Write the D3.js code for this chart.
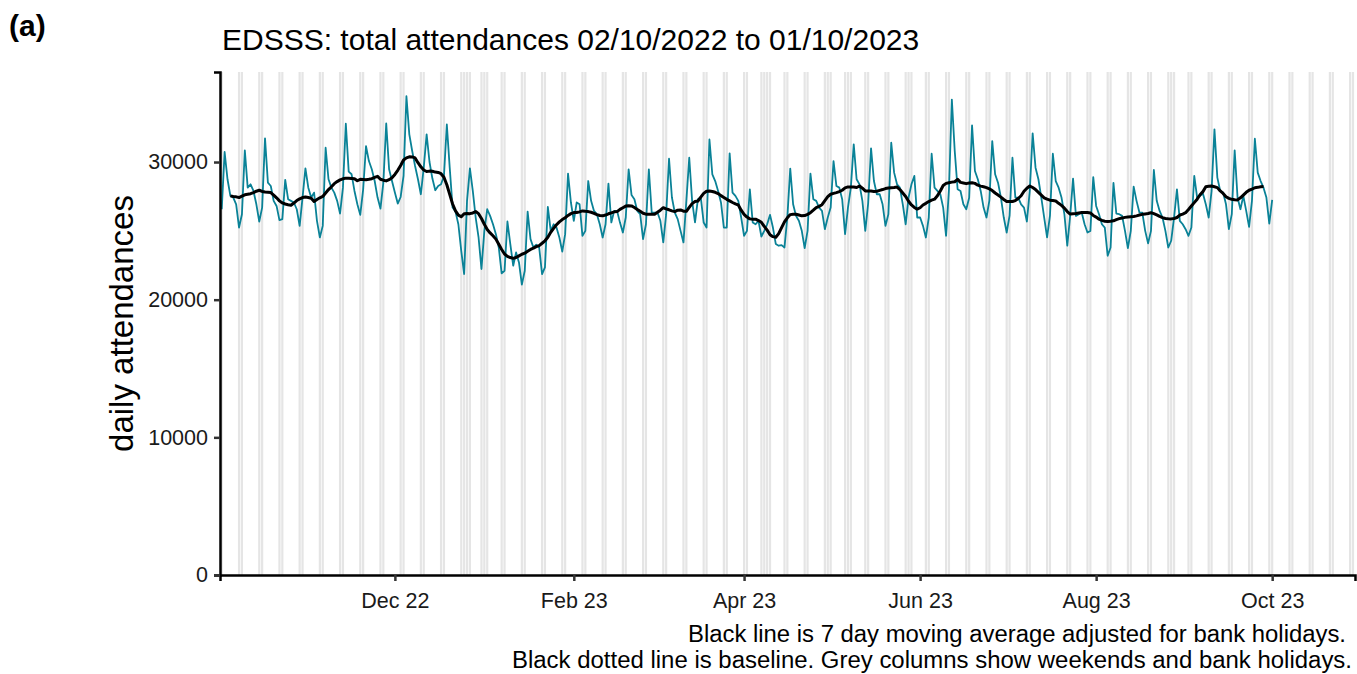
<!DOCTYPE html>
<html><head><meta charset="utf-8">
<script src="https://cdn.jsdelivr.net/npm/d3@7"></script>
<style>body{margin:0;background:#fff;} text{font-family:"Liberation Sans",Arial,sans-serif;}</style>
</head><body><svg id="chart" width="1357" height="674"></svg>
<script>
const startDate = "2022-10-02";
const axisStartDate = "2022-10-01T09:36:00Z";
const axisEndDate = "2023-10-29T16:48:00Z";
const dailyAttendances = [
26570,30730,28750,27540,27420,26930,25240,26210,30850,28140,28380,27900,26930,25680,
26690,31720,28500,28260,27180,26810,25780,25850,28700,27300,27180,27060,26570,25360,
27420,29540,28140,27420,27780,25730,24520,25360,31040,28750,28140,27780,27180,26260,
28140,32780,29300,29110,27900,26930,26160,28000,31160,30070,29470,28620,27420,26620,
28500,32800,29470,28620,27780,26980,27460,29000,34780,32010,30800,29710,28750,27660,
29590,32010,30000,28800,27950,28260,28380,28990,32730,29590,26690,26400,25480,23550,
21860,27180,29540,27900,25970,24520,22230,25000,26570,26090,25480,24760,23790,21910,
22100,25680,24040,22470,23430,22710,21090,22100,26400,24400,23790,23990,23790,21860,
22350,26740,25000,25480,25240,24520,23500,24760,29160,27060,25730,27060,26930,24640,
25000,28620,27180,26450,26210,25480,24520,25480,28430,25610,26450,26450,25600,24880,
25970,29470,27610,27300,26450,26210,24400,25480,29470,26330,26330,26330,25730,24160,
26210,30240,27420,26330,25850,25000,24160,27180,30310,27180,25610,27300,27420,25610,
25240,31640,29110,28620,27900,27060,25240,25240,30630,27780,27540,27180,25970,24640,
25000,28020,25610,25480,25730,24590,25000,25480,26160,25240,24040,23920,23960,23790,
26000,29520,26930,26090,25730,25000,23750,25000,29160,27300,27180,26690,26450,25120,
25970,26690,30070,28260,28140,27300,24760,26690,28140,31280,28750,28380,27180,25000,
27000,30990,28620,27660,27660,26930,25360,26210,31400,29230,28380,28140,26930,25480,
27420,28380,28990,25970,25970,25360,24520,25970,30600,28140,27900,27660,26690,24640,
28000,34540,30800,28020,27900,26930,26570,27400,32660,29350,28750,27900,26690,25970,
27200,31520,29110,28500,27420,25970,24880,26100,30310,27420,27420,26930,26690,25680,
27900,32080,29590,28750,27420,25970,24520,26100,30600,28620,28140,27420,26210,23920,
26100,28790,26090,26210,26330,25480,24880,25000,28910,26810,26210,25480,25240,23190,
23790,28480,26260,26210,26090,25000,23750,25000,28210,27180,26330,26330,25000,24090,
25000,29420,27180,26450,25970,25000,23790,24280,25970,28020,25730,25480,25120,24640,
25240,28990,27420,27540,27710,26930,25970,27900,32370,28870,27900,27780,26930,25120,
26210,30850,27420,26570,27540,26450,25290,27200,31690,29230,28620,28140,27420,25530,
27250];
const maStartOffset = 3;
const movingAverage = [
27540,27500,27470,27420,27520,27620,27660,27700,27780,27880,27950,27860,27820,27800,
27780,27600,27400,27180,27030,26950,26900,26860,27020,27200,27320,27420,27460,27420,
27370,27140,27280,27400,27500,27750,28000,28200,28430,28580,28700,28780,28830,28830,
28810,28790,28640,28740,28730,28720,28750,28790,28880,28960,28750,28680,28630,28720,
28860,29100,29400,29750,30150,30300,30380,30370,30300,29950,29650,29420,29310,29340,
29330,29270,29240,29150,28900,28350,27650,26950,26450,26140,26020,26250,26260,26250,
26300,26400,26250,25900,25480,25100,24850,24640,24400,24020,23650,23320,23150,23060,
23000,23060,23180,23300,23380,23520,23650,23740,23850,23930,24100,24280,24540,24900,
25180,25440,25650,25820,25950,26120,26250,26330,26330,26380,26450,26420,26400,26350,
26270,26180,26120,26090,26150,26240,26310,26380,26400,26560,26680,26800,26820,26810,
26700,26560,26420,26280,26210,26210,26210,26210,26350,26500,26680,26600,26530,26450,
26400,26500,26520,26430,26420,26700,26980,27130,27170,27450,27720,27880,27890,27860,
27800,27710,27560,27430,27290,27180,27060,26960,26880,26500,26200,26000,25870,25850,
25850,25750,25620,25320,25050,24720,24580,24540,24800,25230,25650,25950,26180,26210,
26210,26150,26090,26110,26200,26320,26500,26690,26780,26900,27200,27480,27660,27720,
27780,27850,27950,28120,28190,28190,28180,28150,28260,28100,27900,27900,27890,27860,
27880,27940,28000,28070,28110,28130,28150,28180,28000,27750,27500,27150,26880,26700,
26580,26680,26880,27000,27130,27230,27300,27550,27900,28300,28450,28500,28540,28570,
28740,28520,28480,28430,28470,28500,28450,28320,28250,28200,28140,28050,27930,27750,
27600,27450,27280,27140,27130,27130,27200,27350,27550,27880,28100,28260,28150,28000,
27800,27600,27400,27300,27230,27200,27170,27000,26850,26650,26400,26220,26250,26260,
26300,26330,26330,26330,26300,26120,26000,25850,25760,25700,25680,25700,25730,25820,
25890,25940,25980,26010,26030,26040,26090,26150,26200,26230,26260,26320,26250,26160,
26050,25960,25900,25880,25870,25900,25970,26150,26220,26320,26550,26800,27050,27300,
27620,27850,28200,28240,28260,28200,28140,27900,27720,27480,27360,27290,27260,27250,
27400,27600,27800,27950,28030,28130,28160,28200,28230];
const bankHolidays = ["2022-12-26","2022-12-27","2023-01-02","2023-04-07","2023-04-10","2023-05-01","2023-05-08","2023-05-29","2023-08-28"];
const xTickDates = ["2022-12-01","2023-02-01","2023-04-01","2023-06-01","2023-08-01","2023-10-01"];
const yTickValues = [0,10000,20000,30000];
const yMax = 36540;

(function draw() {
const svg = d3.select("#chart");
const mL = 220, mR = 1355, mT = 72, mB = 575;
const parse = d => new Date(d + (d.length === 10 ? "T00:00:00Z" : ""));
const t0 = parse(startDate);
const x = d3.scaleUtc().domain([parse(axisStartDate), parse(axisEndDate)]).range([mL, mR]);
const y = d3.scaleLinear().domain([0, yMax]).range([mB, mT]);
const dayW = x(d3.utcDay.offset(t0, 1)) - x(t0);

const bhSet = new Set(bankHolidays);
const allDays = d3.utcDay.range(d3.utcDay.floor(parse(axisStartDate)), parse(axisEndDate));
const greyDays = allDays.filter(d => d.getUTCDay() === 0 || d.getUTCDay() === 6 || bhSet.has(d3.utcFormat("%Y-%m-%d")(d)));
svg.append("g").selectAll("rect").data(greyDays).join("rect")
  .attr("x", d => Math.max(mL, x(d) - dayW * 0.38))
  .attr("width", dayW * 0.76)
  .attr("y", mT).attr("height", mB - mT)
  .attr("fill", "#e5e5e5");

const daily = dailyAttendances.map((v, i) => ({date: d3.utcDay.offset(t0, i), v}));
const ma = movingAverage.map((v, i) => ({date: d3.utcDay.offset(t0, i + maStartOffset), v}));
const line = d3.line().x(d => x(d.date)).y(d => y(d.v));
svg.append("path").datum(daily).attr("d", line).attr("fill", "none")
  .attr("stroke", "#0a8297").attr("stroke-width", 1.8).attr("stroke-linejoin", "round");
svg.append("path").datum(ma).attr("d", line).attr("fill", "none")
  .attr("stroke", "#000").attr("stroke-width", 3).attr("stroke-linejoin", "round");

const fontFam = "Liberation Sans, Arial, sans-serif";
const xAxis = d3.axisBottom(x).tickValues(xTickDates.map(parse)).tickFormat(d3.utcFormat("%b %y")).tickSize(6).tickPadding(12);
const gx = svg.append("g").attr("transform", `translate(0,${mB})`).call(xAxis);
gx.select(".domain").attr("stroke", "#000").attr("stroke-width", 2.5);
gx.selectAll(".tick line").attr("stroke", "#333").attr("stroke-width", 2.5);
gx.selectAll(".tick text").attr("font-size", 21.5).attr("fill", "#1a1a1a").attr("font-family", fontFam);

const yAxis = d3.axisLeft(y).tickValues(yTickValues).tickFormat(d3.format("d")).tickSize(6).tickPadding(6);
const gy = svg.append("g").attr("transform", `translate(${mL},0)`).call(yAxis);
gy.select(".domain").attr("stroke", "#000").attr("stroke-width", 2.5);
gy.selectAll(".tick line").attr("stroke", "#333").attr("stroke-width", 2.5);
gy.selectAll(".tick text").attr("font-size", 21.5).attr("fill", "#1a1a1a").attr("font-family", fontFam);

svg.append("text").attr("x", 9).attr("y", 36).attr("font-size", 30).attr("font-weight", "bold").text("(a)");
svg.append("text").attr("x", 222).attr("y", 50).attr("font-size", 30).attr("fill", "#000")
  .text("EDSSS: total attendances 02/10/2022 to 01/10/2023");
svg.append("text").attr("transform", `translate(133,${(mT + mB) / 2}) rotate(-90)`)
  .attr("text-anchor", "middle").attr("font-size", 33).text("daily attendances");
svg.append("text").attr("x", 1346).attr("y", 642).attr("text-anchor", "end").attr("font-size", 23)
  .attr("textLength", 658).attr("lengthAdjust", "spacingAndGlyphs")
  .text("Black line is 7 day moving average adjusted for bank holidays.");
svg.append("text").attr("x", 1352).attr("y", 668).attr("text-anchor", "end").attr("font-size", 23)
  .attr("textLength", 840).attr("lengthAdjust", "spacingAndGlyphs")
  .text("Black dotted line is baseline. Grey columns show weekends and bank holidays.");
})();
</script></body></html>
